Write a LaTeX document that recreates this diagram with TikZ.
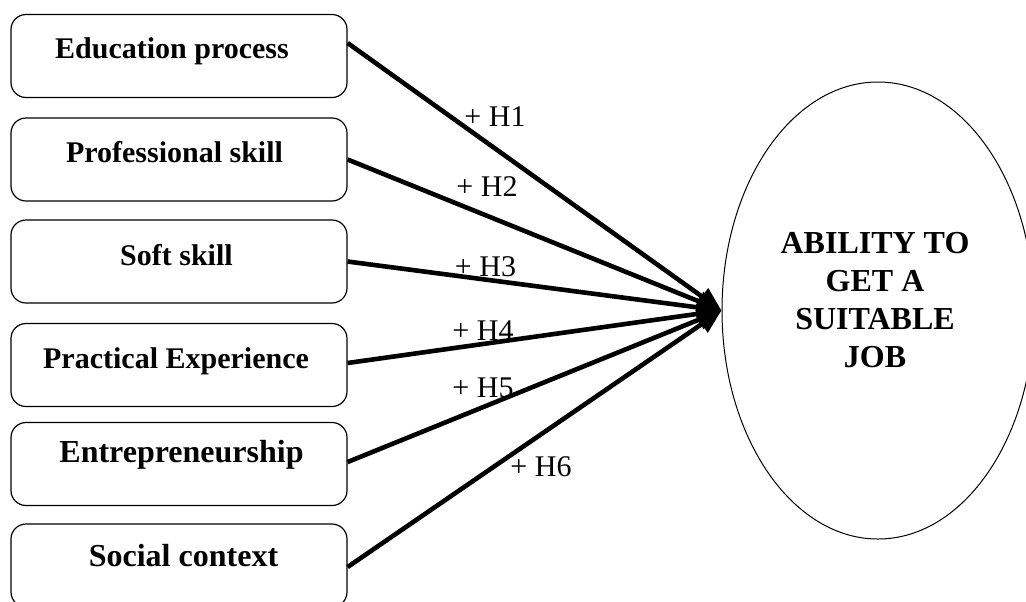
\documentclass[tikz,border=0pt]{standalone}
\usepackage{fontspec}
\setmainfont{Liberation Serif}
\usetikzlibrary{shapes.geometric,arrows.meta}
\begin{document}
\begin{tikzpicture}[x=0.5pt,y=-0.5pt,
  box/.style={draw, line width=0.6pt, rounded corners=7.5pt, minimum width=168pt, minimum height=41.5pt, inner sep=0pt},
  boxtext/.style={anchor=base, font=\bfseries\fontsize{15}{18}\selectfont, inner sep=0pt},
  bigtext/.style={anchor=base, font=\bfseries\fontsize{16}{19}\selectfont, inner sep=0pt},
  link/.style={line width=2.3pt, -{Triangle[length=12pt,width=10pt]}},
  hyp/.style={font=\fontsize{15}{17}\selectfont, inner sep=0pt},
]
\useasboundingbox (0,0) rectangle (1026,601);
\clip (0,0) rectangle (1026,601);
% boxes
\node[box] (b1) at (179,56) {};
\node[box] (b2) at (179,159.5) {};
\node[box] (b3) at (179,261.5) {};
\node[box] (b4) at (179,365) {};
\node[box] (b5) at (179,464) {};
\node[box] (b6) at (179,565.5) {};
\node[boxtext] (t1) at (172,58) {Education process};
\node[boxtext] (t2) at (174.5,162) {Professional skill};
\node[boxtext] (t3) at (176.5,265) {Soft skill};
\node[boxtext] (t4) at (176,368) {Practical Experience};
\node[bigtext] (t5) at (181.5,462) {Entrepreneurship};
\node[bigtext] (t6) at (183.5,566) {Social context};
% outcome
\node[draw, ellipse, line width=0.5pt, minimum width=156pt, minimum height=228.5pt, inner sep=0pt] (job) at (878,310.5) {};
\node[font=\bfseries\fontsize{16}{19}\selectfont, align=center, inner sep=0pt] (jobtext) at (875,300) {ABILITY TO\\GET A\\SUITABLE\\JOB};
% links
\draw[link] ([yshift=6.5pt]b1.east) -- (job.west);
\draw[link] (b2.east) -- (job.west);
\draw[link] (b3.east) -- (job.west);
\draw[link] ([yshift=1pt]b4.east) -- (job.west);
\draw[link] ([yshift=1pt]b5.east) -- (job.west);
\draw[link] ([yshift=-0.75pt]b6.east) -- (job.west);
% hypothesis labels
\node[hyp] (h1) at (495,117) {+ H1};
\node[hyp] (h2) at (487,187) {+ H2};
\node[hyp] (h3) at (485.5,267) {+ H3};
\node[hyp] (h4) at (483,331) {+ H4};
\node[hyp] (h5) at (483,388) {+ H5};
\node[hyp] (h6) at (541,467) {+ H6};
\end{tikzpicture}
\end{document}
